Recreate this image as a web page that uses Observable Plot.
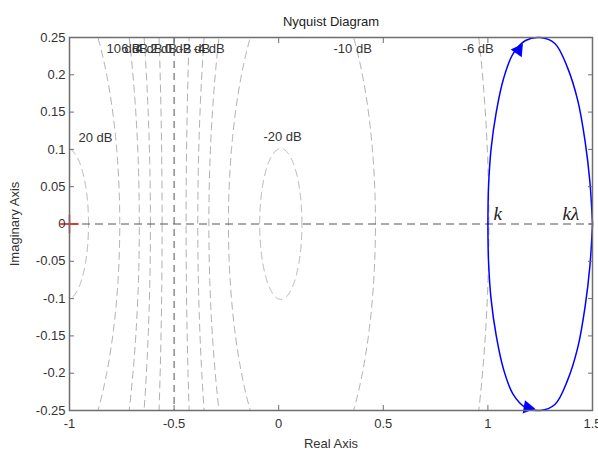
<!DOCTYPE html>
<html><head><meta charset="utf-8">
<script src="https://cdn.jsdelivr.net/npm/d3@7"></script>
<script src="https://cdn.jsdelivr.net/npm/@observablehq/plot@0.6"></script>
<style>body{margin:0;background:#fff} svg{display:block}</style>
</head><body><div id="chart"></div>
<script>
// ---- data ----
const xTicks = [-1, -0.5, 0, 0.5, 1, 1.5];
const yTicks = [-0.25, -0.2, -0.15, -0.1, -0.05, 0, 0.05, 0.1, 0.15, 0.2, 0.25];
const gridDb = [20, 10, 6, 4, 2, 0, -2, -4, -6, -10, -20];

const labelText = ["10 dB", "6 dB", "4 dB", "2 dB", "0 dB", "-2 dB", "-4 dB", "-10 dB", "-6 dB", "20 dB", "-20 dB"];
const labelRe   = [-0.823, -0.753, -0.684, -0.614, -0.545, -0.476, -0.407, 0.262, 0.879, -0.957, -0.073];
const labelIm   = [0.235, 0.235, 0.235, 0.235, 0.235, 0.235, 0.235, 0.235, 0.235, 0.116, 0.117];

// Nyquist curve, positive-frequency branch (k -> k·lambda)
const upperRe = [1.000, 1.003, 1.015, 1.040, 1.075, 1.120, 1.180, 1.250, 1.320, 1.380, 1.430, 1.465, 1.488, 1.500];
const upperIm = [0.000, 0.050, 0.100, 0.150, 0.195, 0.228, 0.246, 0.250, 0.242, 0.210, 0.165, 0.110, 0.055, 0.000];
// negative-frequency branch
const lowerRe = [1.000, 1.003, 1.015, 1.040, 1.075, 1.120, 1.180, 1.250, 1.320, 1.380, 1.430, 1.465, 1.488, 1.500];
const lowerIm = [0.000, -0.050, -0.100, -0.150, -0.195, -0.228, -0.246, -0.250, -0.242, -0.210, -0.165, -0.110, -0.055, 0.000];

const arrowRe = [1.146, 1.190];
const arrowIm = [0.233, -0.246];

const criticalRe = [-1];
const criticalIm = [0];

const markerText = ["k", "kλ"];
const markerRe = [1.027, 1.357];
const markerIm = [0.006, 0.006];

// ---- tables built from the arrays ----
const upper = upperRe.map((x, i) => ({x, y: upperIm[i]}));
const lower = lowerRe.map((x, i) => ({x, y: lowerIm[i]}));
const arrows = arrowRe.map((x, i) => ({x, y: arrowIm[i]}));
const critical = criticalRe.map((x, i) => ({x, y: criticalIm[i]}));
const markers = markerText.map((t, i) => ({t, x: markerRe[i], y: markerIm[i]}));
const labels = labelText.map((t, i) => ({t, x: labelRe[i], y: labelIm[i]}));

// constant-magnitude (M) circles of the Nyquist grid, from the dB values
const gridPts = [];
const zeroDbLine = [];
for (const db of gridDb) {
  const M = Math.pow(10, db / 20), M2 = M * M;
  if (db === 0) { zeroDbLine.push(-0.5); continue; }
  const c = -M2 / (M2 - 1), r = Math.abs(M / (M2 - 1));
  const n = 720;
  for (let i = 0; i <= n; i++) {
    const t = (i / n) * 2 * Math.PI;
    gridPts.push({db, x: c + r * Math.cos(t), y: r * Math.sin(t)});
  }
}

const frameColor = "#6e6e6e";
const textColor = "#333";

const chart = Plot.plot({
  width: 598,
  height: 451,
  marginLeft: 69,
  marginRight: 6,
  marginTop: 37,
  marginBottom: 41,
  style: {fontFamily: "'Liberation Sans', Arial, sans-serif", fontSize: "13px", background: "#fff", color: textColor},
  x: {domain: [-1, 1.5]},
  y: {domain: [-0.25, 0.25]},
  marks: [
    Plot.line(gridPts, {x: "x", y: "y", z: "db", clip: true, stroke: "#b0b0b0", strokeWidth: 1, strokeDasharray: "7,5"}),
    Plot.ruleX(zeroDbLine, {stroke: "#555", strokeWidth: 1, strokeDasharray: "7,5"}),
    Plot.ruleY([0], {stroke: "#555", strokeWidth: 1, strokeDasharray: "8,5"}),
    Plot.line(upper, {x: "x", y: "y", curve: "catmull-rom", stroke: "#0000ff", strokeWidth: 1.5}),
    Plot.line(lower, {x: "x", y: "y", curve: "catmull-rom", stroke: "#0000ff", strokeWidth: 1.5}),
    Plot.dot(arrows, {x: "x", y: "y", symbol: "triangle", r: 5, fill: "#0000ff", stroke: "none", rotate: d => d.y > 0 ? 35 : 100}),
    Plot.dot(critical, {x: "x", y: "y", symbol: "plus", r: 6, stroke: "red", strokeWidth: 1.5}),
    Plot.text(labels, {x: "x", y: "y", text: "t", textAnchor: "start", fill: textColor, fontSize: 13}),
    Plot.text(markers, {x: "x", y: "y", text: "t", textAnchor: "start", lineAnchor: "bottom", fontFamily: "'Liberation Serif', 'DejaVu Serif', serif", fontStyle: "italic", fontSize: 19, fill: "#222"}),
    Plot.text(["Nyquist Diagram"], {frameAnchor: "top", dy: -21, fontSize: 13, fill: "#222"}),
    Plot.frame({stroke: frameColor, strokeWidth: 1.5}),
    Plot.axisX(xTicks, {anchor: "bottom", tickSize: -5, tickPadding: 13, tickFormat: d => String(d), stroke: frameColor, fill: textColor, fontSize: 13, label: "Real Axis", labelAnchor: "center", labelOffset: 37, labelArrow: "none"}),
    Plot.axisX(xTicks, {anchor: "top", tickSize: -5, fill: "none", stroke: frameColor, label: null}),
    Plot.axisY(yTicks, {anchor: "left", tickSize: -5, tickPadding: 9, tickFormat: d => String(d), stroke: frameColor, fill: textColor, fontSize: 13, label: "Imaginary Axis", labelAnchor: "center", labelOffset: 60, labelArrow: "none"}),
    Plot.axisY(yTicks, {anchor: "right", tickSize: -5, fill: "none", stroke: frameColor, label: null})
  ]
});
document.getElementById("chart").appendChild(chart);
</script>
</body></html>
